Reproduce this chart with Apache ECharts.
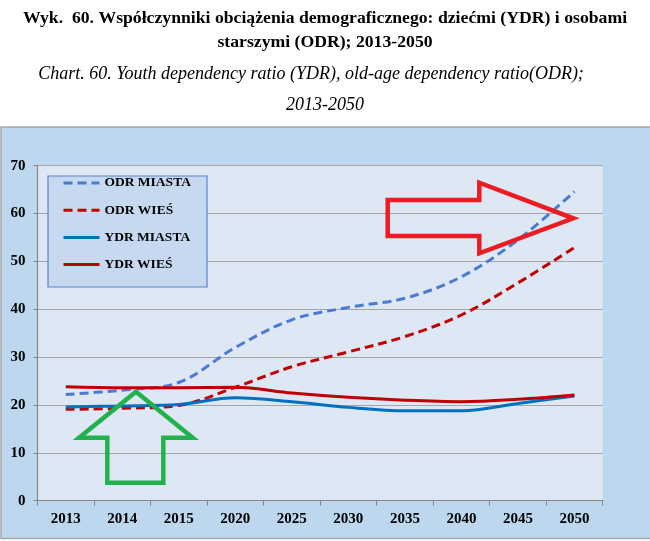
<!DOCTYPE html>
<html><head><meta charset="utf-8">
<script src="https://cdn.jsdelivr.net/npm/echarts@6/dist/echarts.min.js"></script>
<style>html,body{margin:0;padding:0;background:#fff}#c{width:650px;height:541px}</style>
</head><body><div id="c"></div>
<script>
var categories = ['2013','2014','2015','2020','2025','2030','2035','2040','2045','2050'];
var odrMiasta = [22.2, 23.1, 24.7, 32.0, 37.8, 40.4, 42.3, 46.8, 54.5, 64.6];
var odrWies   = [19.1, 19.3, 19.9, 23.7, 28.0, 31.1, 34.3, 38.8, 45.5, 52.9];
var ydrMiasta = [19.6, 19.8, 20.1, 21.5, 20.7, 19.5, 18.8, 18.8, 20.3, 21.9];
var ydrWies   = [23.8, 23.6, 23.6, 23.7, 22.5, 21.6, 21.0, 20.7, 21.2, 22.1];
var seriesNames = ['ODR MIASTA', 'ODR WIEŚ', 'YDR MIASTA', 'YDR WIEŚ'];
var titleLines = ['Wyk.  60. Współczynniki obciążenia demograficznego: dziećmi (YDR) i osobami', 'starszymi (ODR); 2013-2050'];
var subtitleLines = ['Chart. 60. Youth dependency ratio (YDR), old-age dependency ratio(ODR);', '2013-2050'];

var serif = "'Liberation Serif','Times New Roman',serif";
var chart = echarts.init(document.getElementById('c'), null, {renderer: 'canvas'});
function mk(name, data, color, dashed) {
  return {
    name: name, type: 'line', data: data, smooth: 0.35, symbol: 'none',
    lineStyle: {color: color, width: 3, type: dashed ? [9, 5] : 'solid'},
    itemStyle: {color: color}, z: 2
  };
}
chart.setOption({
  animation: false,
  textStyle: {fontFamily: serif},
  graphic: [
    {type: 'rect', z: -100, shape: {x: 1, y: 127, width: 700, height: 411.5},
     style: {fill: '#BDD7EE', stroke: '#A6A6A6', lineWidth: 1.5}},
    {type: 'text', x: 325, y: 18, style: {text: titleLines[0], font: "bold 17.7px " + serif, fill: '#000', textAlign: 'center', textVerticalAlign: 'middle'}},
    {type: 'text', x: 325, y: 42.5, style: {text: titleLines[1], font: "bold 17.7px " + serif, fill: '#000', textAlign: 'center', textVerticalAlign: 'middle'}},
    {type: 'text', x: 311, y: 74, style: {text: subtitleLines[0], font: "italic 18px " + serif, fill: '#000', textAlign: 'center', textVerticalAlign: 'middle'}},
    {type: 'text', x: 325, y: 105, style: {text: subtitleLines[1], font: "italic 18px " + serif, fill: '#000', textAlign: 'center', textVerticalAlign: 'middle'}},
    {type: 'rect', z: 3, shape: {x: 48, y: 176, width: 159, height: 111},
     style: {fill: '#C6D9F0', stroke: '#5B83C7', lineWidth: 1.2}},
    {type: 'polygon', z: 10, shape: {points: [[387.7,200],[479.3,200],[479.3,182.7],[573.3,218.3],[479.3,253.3],[479.3,236],[387.7,236]]},
     style: {fill: 'none', stroke: '#ED1C24', lineWidth: 4.5, lineJoin: 'miter'}},
    {type: 'polygon', z: 10, shape: {points: [[136,391.7],[192.7,437.7],[163.3,437.7],[163.3,482.7],[107.3,482.7],[107.3,437.7],[79,437.7]]},
     style: {fill: 'none', stroke: '#22B14C', lineWidth: 4.5, lineJoin: 'miter'}}
  ],
  legend: {
    orient: 'vertical', left: 62, top: 176, padding: 0,
    itemWidth: 36, itemHeight: 14, itemGap: 13.2, z: 5,
    data: seriesNames,
    itemStyle: {opacity: 0},
    lineStyle: {width: 3},
    textStyle: {fontFamily: serif, fontWeight: 'bold', fontSize: 13.5, color: '#000', padding: [0,0,0,0]}
  },
  grid: {left: 37.5, right: 47.3, top: 165.7, bottom: 40.3, show: true, backgroundColor: '#DDE8F4', borderWidth: 0},
  xAxis: {
    type: 'category', data: categories, boundaryGap: true,
    axisLine: {lineStyle: {color: '#868686', width: 1.2}},
    axisTick: {show: true, interval: 0, length: 5, lineStyle: {color: '#868686'}},
    axisLabel: {fontFamily: serif, fontWeight: 'bold', fontSize: 15, color: '#000', margin: 11, interval: 0}
  },
  yAxis: {
    type: 'value', min: 0, max: 70, interval: 10,
    axisLine: {show: true, lineStyle: {color: '#868686', width: 1.2}},
    axisTick: {show: true, length: 4, lineStyle: {color: '#868686'}},
    splitLine: {lineStyle: {color: '#A6A6A6', width: 1.2}},
    axisLabel: {fontFamily: serif, fontWeight: 'bold', fontSize: 15, color: '#000', margin: 12}
  },
  series: [
    mk(seriesNames[0], odrMiasta, '#4A7BD0', true),
    mk(seriesNames[1], odrWies, '#C00000', true),
    mk(seriesNames[2], ydrMiasta, '#0070C0', false),
    mk(seriesNames[3], ydrWies, '#C00000', false)
  ]
});
</script></body></html>
